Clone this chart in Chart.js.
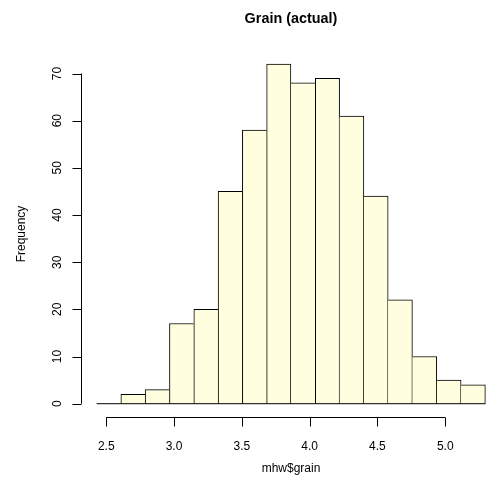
<!DOCTYPE html>
<html>
<head>
<meta charset="utf-8">
<script src="https://cdn.jsdelivr.net/npm/chart.js@4/dist/chart.umd.min.js"></script>
<style>
  html, body { margin: 0; padding: 0; background: #fff; }
  #wrap { width: 487px; height: 489px; }
</style>
</head>
<body>
<div id="wrap"><canvas id="hist" width="487" height="489"></canvas></div>
<script>
// histogram data
const binEdges = [2.429, 2.608, 2.787, 2.966, 3.146, 3.325, 3.504, 3.683, 3.862,
                  4.042, 4.221, 4.400, 4.579, 4.758, 4.938, 5.117, 5.296];
const counts = [0, 2, 3, 17, 20, 45, 58, 72, 68, 69, 61, 44, 22, 10, 5, 4];
const xTicks = [2.5, 3.0, 3.5, 4.0, 4.5, 5.0];
const yTicks = [0, 10, 20, 30, 40, 50, 60, 70];

const titleText = "Grain (actual)";
const xTitle = "mhw$grain";
const yTitle = "Frequency";

const FONT = "'Liberation Sans', Arial, Helvetica, sans-serif";

let bars = counts.map((c, i) => ({ x: (binEdges[i] + binEdges[i + 1]) / 2, y: c }));
let last = counts.length - 1;

// R style axes drawn by hand
const rAxes = {
  id: "rAxes",
  afterDraw(chart) {
    const ctx = chart.ctx;
    const xs = chart.scales.x, ys = chart.scales.y;
    const area = chart.chartArea;
    ctx.save();
    ctx.strokeStyle = "#000";
    ctx.fillStyle = "#000";
    ctx.lineWidth = 1;

    // x axis
    let yAx = Math.round(area.bottom) + 0.5;
    let x0 = xs.getPixelForValue(xTicks[0]);
    let x1 = xs.getPixelForValue(xTicks[xTicks.length - 1]);
    ctx.beginPath();
    ctx.moveTo(x0, yAx); ctx.lineTo(x1, yAx);
    xTicks.forEach(t => {
      let px = Math.round(xs.getPixelForValue(t)) + 0.5;
      ctx.moveTo(px, yAx); ctx.lineTo(px, yAx + 9);
    });
    ctx.stroke();
    ctx.font = "12px " + FONT;
    ctx.textAlign = "center";
    ctx.textBaseline = "alphabetic";
    xTicks.forEach(t => {
      ctx.fillText(t.toFixed(1), xs.getPixelForValue(t), 450);
    });

    // y axis
    let xAx = Math.round(area.left) + 0.5;
    let yb = ys.getPixelForValue(yTicks[0]);
    let yt = ys.getPixelForValue(yTicks[yTicks.length - 1]);
    ctx.beginPath();
    ctx.moveTo(xAx, yb); ctx.lineTo(xAx, yt);
    yTicks.forEach(t => {
      let py = Math.round(ys.getPixelForValue(t)) + 0.5;
      ctx.moveTo(xAx, py); ctx.lineTo(xAx - 9, py);
    });
    ctx.stroke();
    yTicks.forEach(t => {
      ctx.save();
      ctx.translate(61, ys.getPixelForValue(t));
      ctx.rotate(-Math.PI / 2);
      ctx.fillText(String(t), 0, 0);
      ctx.restore();
    });

    // titles
    ctx.fillText(xTitle, 291, 472);
    ctx.save();
    ctx.translate(25, 234);
    ctx.rotate(-Math.PI / 2);
    ctx.fillText(yTitle, 0, 0);
    ctx.restore();

    ctx.font = "bold 14.4px " + FONT;
    ctx.fillText(titleText, 291, 23);
    ctx.restore();
  }
};

new Chart(document.getElementById("hist"), {
  type: "bar",
  data: {
    datasets: [
      {
        type: "bar",
        data: bars,
        order: 1,
        backgroundColor: "#FFFFE0",
        borderColor: "#000",
        borderSkipped: false,
        // each shared edge is drawn once, by the taller of the two bins
        borderWidth: ctx => {
          let i = ctx.dataIndex;
          let prev = i > 0 ? counts[i - 1] : 0;
          let next = i < last ? counts[i + 1] : 0;
          return {
            top: 1,
            bottom: 0,
            left: counts[i] >= prev ? 1 : 0,
            right: counts[i] > next ? 1 : 0
          };
        },
        categoryPercentage: 1,
        barPercentage: 1
      },
      {
        // zero line under the bins
        type: "line",
        data: [{ x: binEdges[0], y: 0 }, { x: binEdges[binEdges.length - 1], y: 0 }],
        order: 0,
        borderColor: "#000",
        borderWidth: 1,
        pointRadius: 0,
        fill: false
      }
    ]
  },
  options: {
    responsive: false,
    devicePixelRatio: 1,
    animation: false,
    layout: { padding: { left: 81, right: 0, top: 50.5, bottom: 71.7 } },
    plugins: { legend: { display: false }, tooltip: { enabled: false } },
    scales: {
      x: { type: "linear", display: false, offset: false, min: 2.314, max: 5.308 },
      y: { display: false, min: -2.88, max: 74.88 }
    }
  },
  plugins: [rAxes]
});
</script>
</body>
</html>
